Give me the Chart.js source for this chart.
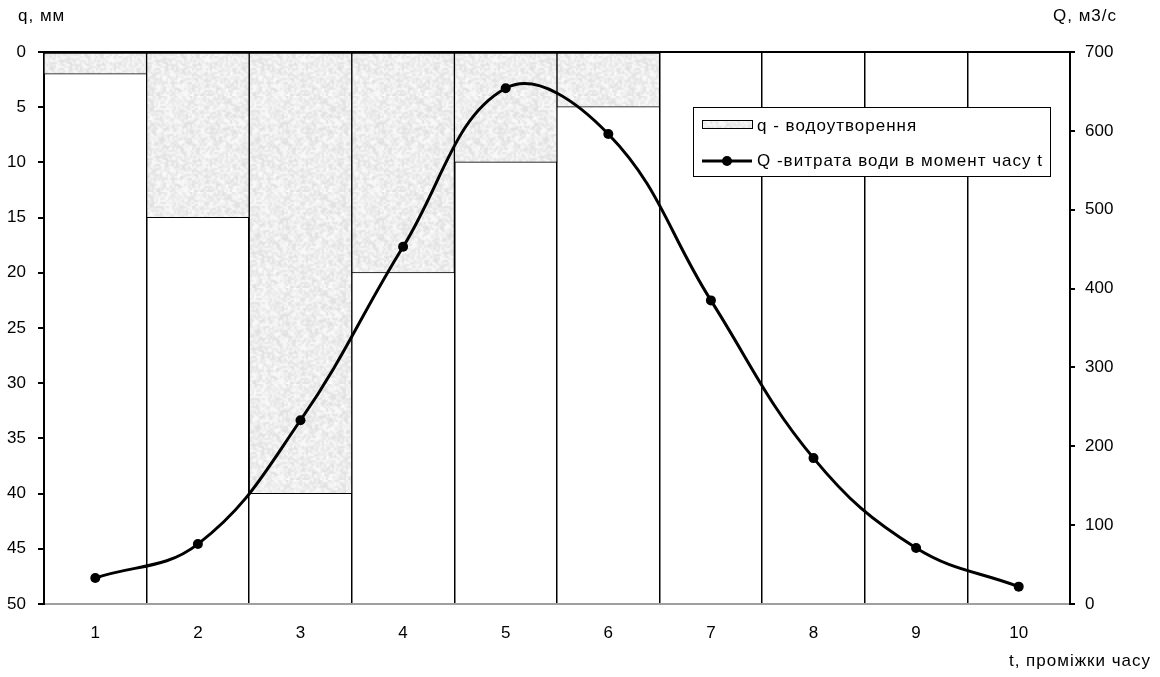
<!DOCTYPE html>
<html>
<head>
<meta charset="utf-8">
<title>Водоутворення та витрата води</title>
<script src="https://cdn.jsdelivr.net/npm/chart.js@4/dist/chart.umd.min.js"></script>
<style>
  html, body { margin: 0; padding: 0; background: #ffffff; }
  #wrap { position: relative; width: 1160px; height: 677px; }
</style>
</head>
<body>
<div id="wrap"><canvas id="chart" width="1160" height="677"></canvas></div>
<script>
// Time intervals
const categories = ['1', '2', '3', '4', '5', '6', '7', '8', '9', '10'];
// q – runoff depth per interval, mm
const runoffDepth = [2, 15, 40, 20, 10, 5, 0, 0, 0, 0];
// Q – water discharge at the moment t, m3/s
const discharge = [33, 76, 233, 453, 654, 596, 385, 185, 71, 22];

const depthLabel = 'q - водоутворення';
const dischargeLabel = 'Q -витрата води в момент часу t';
const leftTitle = 'q, мм';
const rightTitle = 'Q, м3/с';
const bottomTitle = 't, проміжки часу';

const FONT = '"Liberation Sans", Arial, sans-serif';
const SIZE = 17;

// Grainy light-grey fill for the runoff bars
function makeGrainPattern() {
  let seed = 12345;
  const rnd = () => { seed = (seed * 1103515245 + 12345) & 0x7fffffff; return seed / 0x7fffffff; };
  const small = document.createElement('canvas');
  small.width = 48; small.height = 48;
  const sctx = small.getContext('2d');
  const img = sctx.createImageData(48, 48);
  for (let i = 0; i < 48 * 48; i++) {
    const v = Math.round(222 + rnd() * 32);
    img.data[i * 4] = v; img.data[i * 4 + 1] = v; img.data[i * 4 + 2] = v; img.data[i * 4 + 3] = 255;
  }
  sctx.putImageData(img, 0, 0);
  const tile = document.createElement('canvas');
  tile.width = 96; tile.height = 96;
  const tctx = tile.getContext('2d');
  tctx.imageSmoothingEnabled = true;
  tctx.drawImage(small, 0, 0, 96, 96);
  return tctx.createPattern(tile, 'repeat');
}
const grain = makeGrainPattern();

// Titles, top frame line and the legend box
const decorations = {
  id: 'decorations',
  afterDraw(chart) {
    const ctx = chart.ctx;
    const area = chart.chartArea;
    ctx.save();
    // top frame line
    ctx.strokeStyle = '#000';
    ctx.lineWidth = 2;
    ctx.beginPath();
    ctx.moveTo(area.left, area.top);
    ctx.lineTo(area.right, area.top);
    ctx.stroke();

    ctx.fillStyle = '#000';
    ctx.font = SIZE + 'px ' + FONT;
    ctx.letterSpacing = '1px';
    ctx.textBaseline = 'middle';
    ctx.textAlign = 'left';
    ctx.fillText(leftTitle, 18, 16);
    ctx.fillText(rightTitle, 1053, 16);
    ctx.textAlign = 'right';
    ctx.fillText(bottomTitle, 1151, 661);

    // legend
    const bx = 693, by = 107, bw = 357, bh = 69;
    ctx.fillStyle = '#fff';
    ctx.fillRect(bx, by, bw, bh);
    ctx.strokeStyle = '#000';
    ctx.lineWidth = 1;
    ctx.strokeRect(bx + 0.5, by + 0.5, bw, bh);

    // bar swatch
    ctx.fillStyle = grain;
    ctx.fillRect(702, 120, 50, 8);
    ctx.strokeRect(702.5, 120.5, 50, 8);
    // line swatch
    ctx.strokeStyle = '#000';
    ctx.lineWidth = 3;
    ctx.beginPath();
    ctx.moveTo(702, 161);
    ctx.lineTo(752, 161);
    ctx.stroke();
    ctx.fillStyle = '#000';
    ctx.beginPath();
    ctx.arc(727, 161, 5, 0, Math.PI * 2);
    ctx.fill();

    ctx.fillStyle = '#000';
    ctx.textAlign = 'left';
    ctx.textBaseline = 'middle';
    ctx.fillText(depthLabel, 757, 126);
    ctx.fillText(dischargeLabel, 757, 161);
    ctx.restore();
  }
};

new Chart(document.getElementById('chart'), {
  data: {
    labels: categories,
    datasets: [
      {
        type: 'line',
        label: dischargeLabel,
        data: discharge,
        yAxisID: 'yQ',
        borderColor: '#000',
        backgroundColor: '#000',
        borderWidth: 3,
        pointRadius: 5,
        pointBackgroundColor: '#000',
        pointBorderWidth: 0,
        tension: 0.4,
        order: 0
      },
      {
        type: 'bar',
        label: depthLabel,
        data: runoffDepth,
        yAxisID: 'yq',
        backgroundColor: grain,
        borderColor: '#000',
        borderWidth: 1,
        borderSkipped: false,
        categoryPercentage: 1,
        barPercentage: 1,
        order: 1
      }
    ]
  },
  options: {
    responsive: false,
    animation: false,
    layout: { padding: { top: 52, left: 0, right: 0, bottom: 0 } },
    plugins: { legend: { display: false }, tooltip: { enabled: false }, title: { display: false } },
    scales: {
      x: {
        type: 'category',
        offset: true,
        grid: { offset: true, color: '#000', lineWidth: 1.5, drawTicks: false, tickLength: 0 },
        border: { display: true, color: '#a0a0a0', width: 2 },
        ticks: { color: '#000', font: { family: FONT, size: SIZE }, padding: 19 },
        afterFit(s) { s.height = 73; }
      },
      yq: {
        type: 'linear',
        position: 'left',
        reverse: true,
        min: 0,
        max: 50,
        ticks: { stepSize: 5, color: '#000', font: { family: FONT, size: SIZE }, padding: 12 },
        grid: { drawOnChartArea: false, drawTicks: true, tickLength: 6, color: '#000', lineWidth: 2 },
        border: { color: '#000', width: 2 },
        afterFit(s) { s.width = 44; }
      },
      yQ: {
        type: 'linear',
        position: 'right',
        min: 0,
        max: 700,
        ticks: { stepSize: 100, color: '#000', font: { family: FONT, size: SIZE }, padding: 10 },
        grid: { drawOnChartArea: false, drawTicks: true, tickLength: 5, color: '#000', lineWidth: 2 },
        border: { color: '#000', width: 2 },
        afterFit(s) { s.width = 90; }
      }
    }
  },
  plugins: [decorations]
});
</script>
</body>
</html>
